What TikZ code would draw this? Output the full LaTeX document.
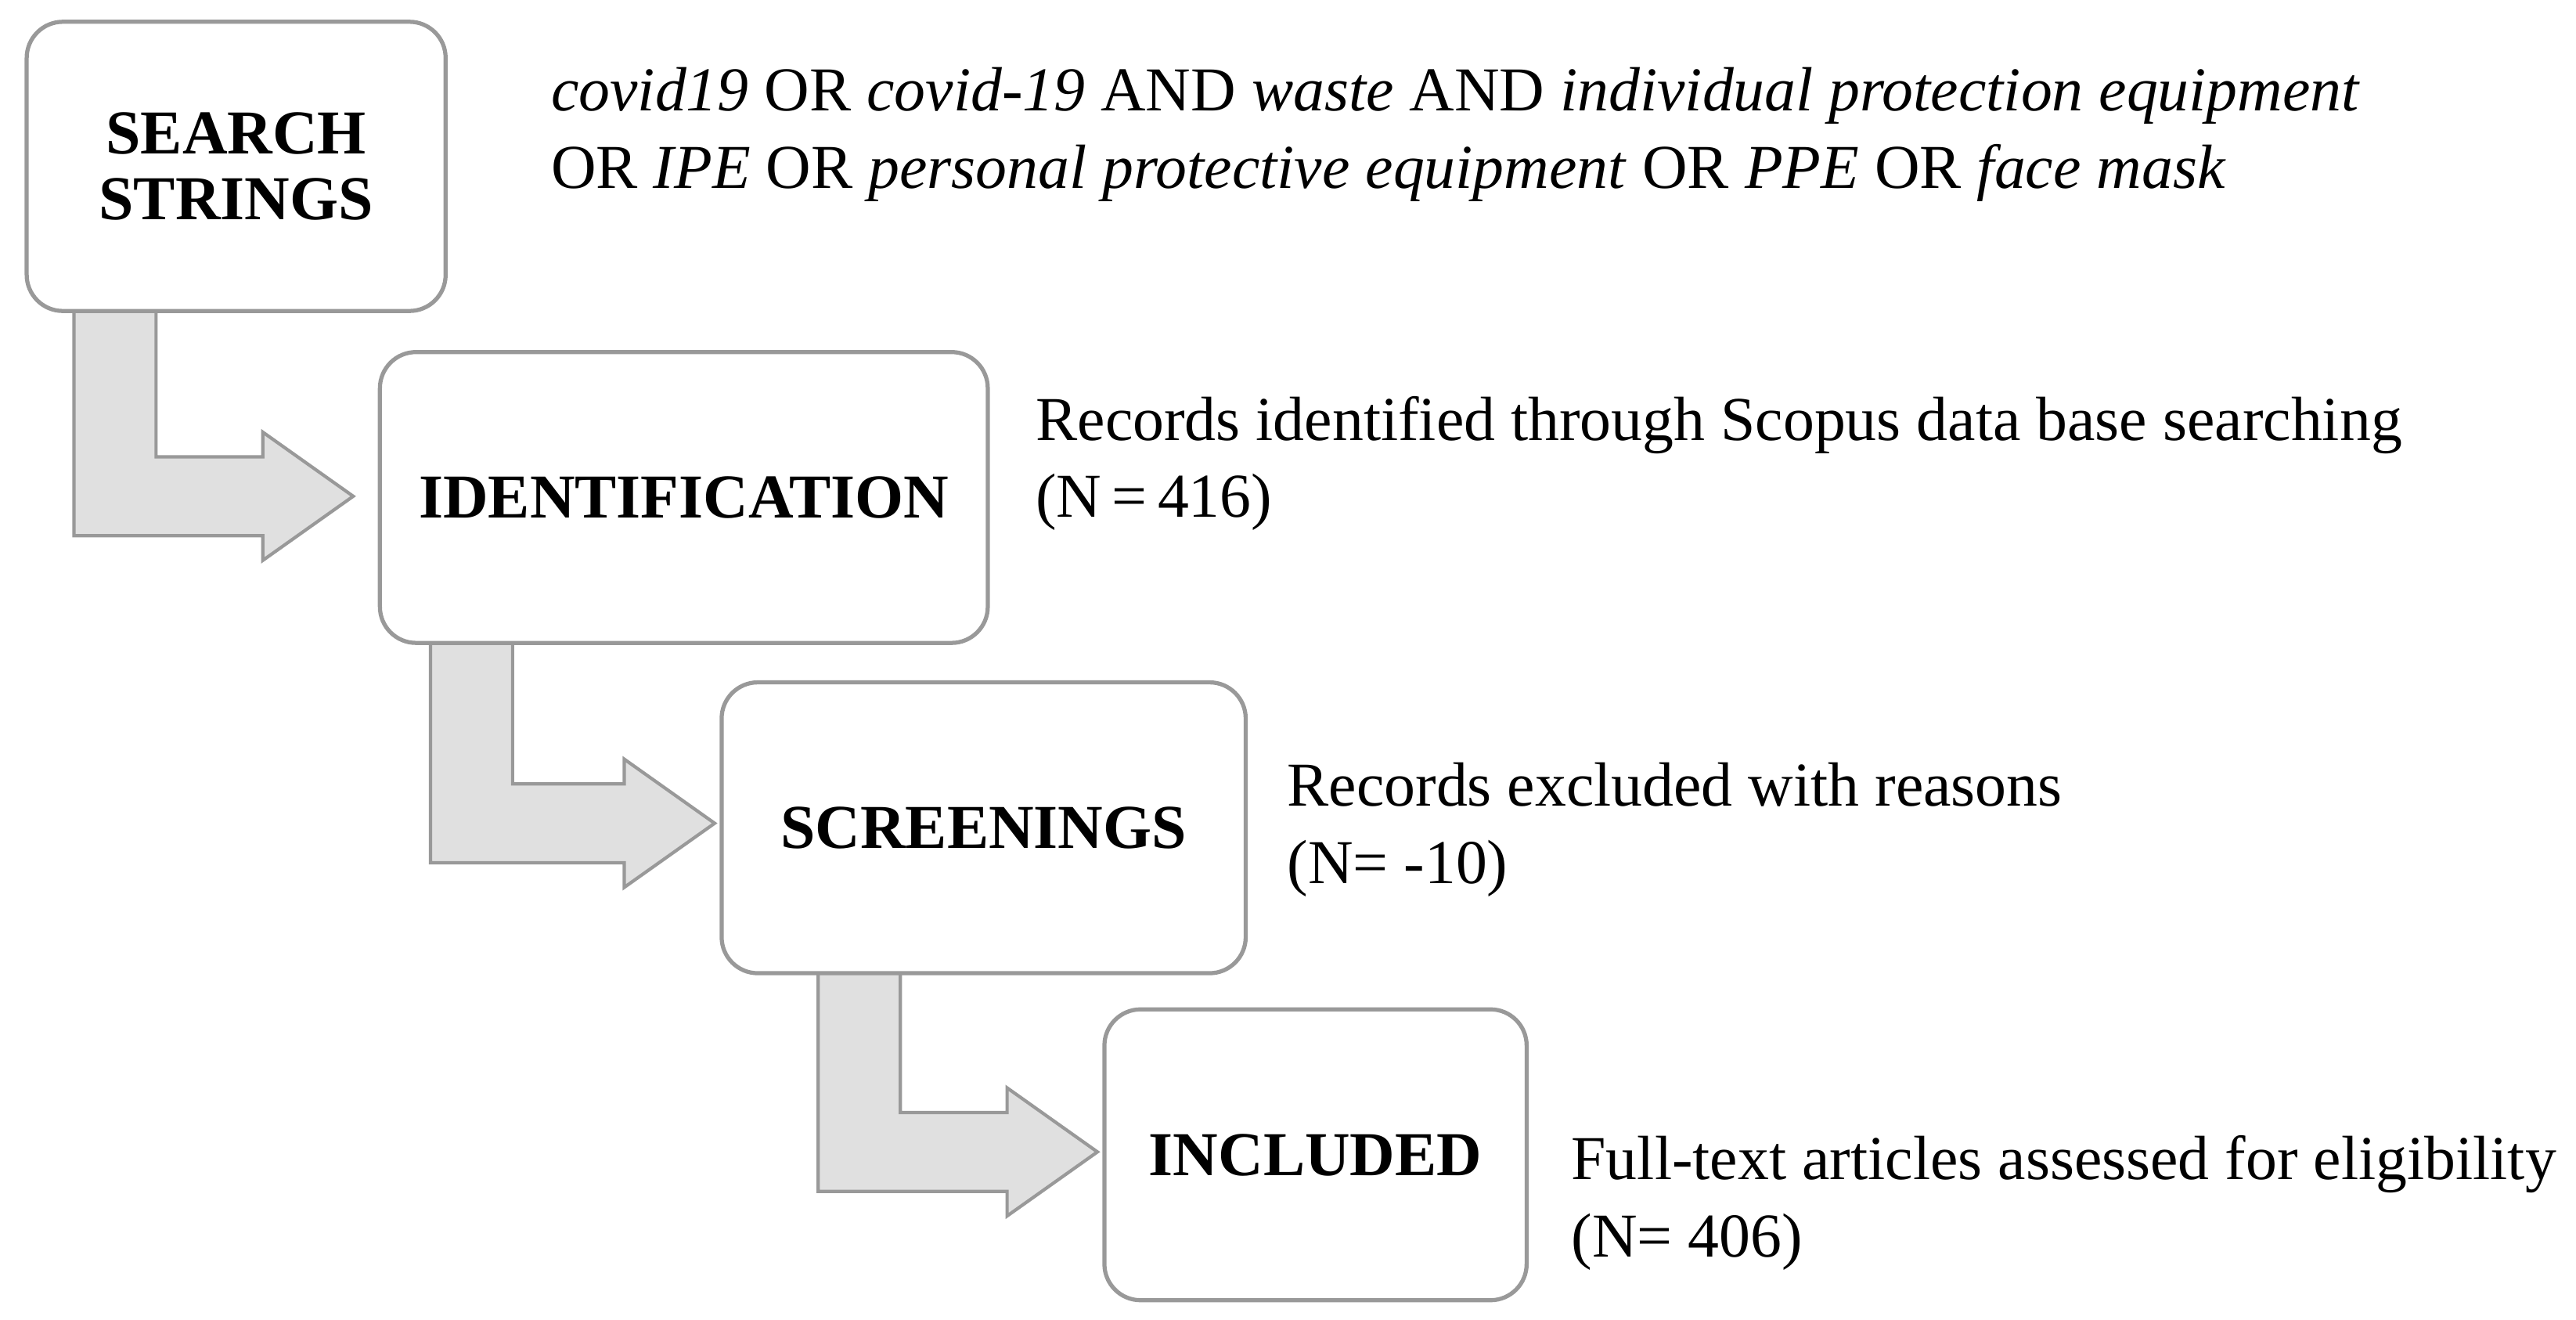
\documentclass[tikz,border=0pt]{standalone}
\usepackage{fontspec}
\setmainfont{Liberation Serif}
\begin{document}
\begin{tikzpicture}[x=1pt,y=-1pt,
  box/.style={draw=black!40,line width=2.5pt,rounded corners=22pt,fill=white},
  lab/.style={font=\fontsize{38}{40}\selectfont\bfseries,align=center},
  txt/.style={font=\fontsize{38}{47}\selectfont,align=left,anchor=west},
  barrow/.style={draw=black!40,line width=2pt,fill=black!12}]
\useasboundingbox (0,0) rectangle (1568,803);
\newcommand{\bent}[4]{% x of stem left, y top, tip x, tip y
  \path[barrow] (#1,#2) -- ++(50,0) |- (#3-55,#4-24) -- ++(0,-15) -- (#3,#4) -- (#3-55,#4+39) -- ++(0,-15) -| cycle;}
\bent{45}{188}{215}{302}
\bent{262}{390}{435}{501}
\bent{498}{591}{668}{701}
\node[box,minimum width=255pt,minimum height=176pt,anchor=north west] (s) at (15,12) {};
\node[lab] at (s.center) {SEARCH\\STRINGS};
\node[box,minimum width=370pt,minimum height=177pt,anchor=north west] (i) at (230,213) {};
\node[lab] at (i.center) {IDENTIFICATION};
\node[box,minimum width=319pt,minimum height=177pt,anchor=north west] (c) at (438,414) {};
\node[lab] at (c.center) {SCREENINGS};
\node[box,minimum width=257pt,minimum height=177pt,anchor=north west] (n) at (671,613) {};
\node[lab] at (n.center) {INCLUDED};
\node[txt] (t1) at (332,82) {\textit{covid19} OR \textit{covid-19} AND \textit{waste} AND \textit{individual protection equipment}\\OR \textit{IPE} OR \textit{personal protective equipment} OR \textit{PPE} OR \textit{face mask}};
\node[txt] (t2) at (627,282) {Records identified through Scopus data base searching\\(N\,=\,416)};
\node[txt] (t3) at (780,505) {Records excluded with reasons\\(N= -10)};
\node[txt] (t4) at (953,732) {Full-text articles assessed for eligibility\\(N= 406)};
\end{tikzpicture}
\end{document}
